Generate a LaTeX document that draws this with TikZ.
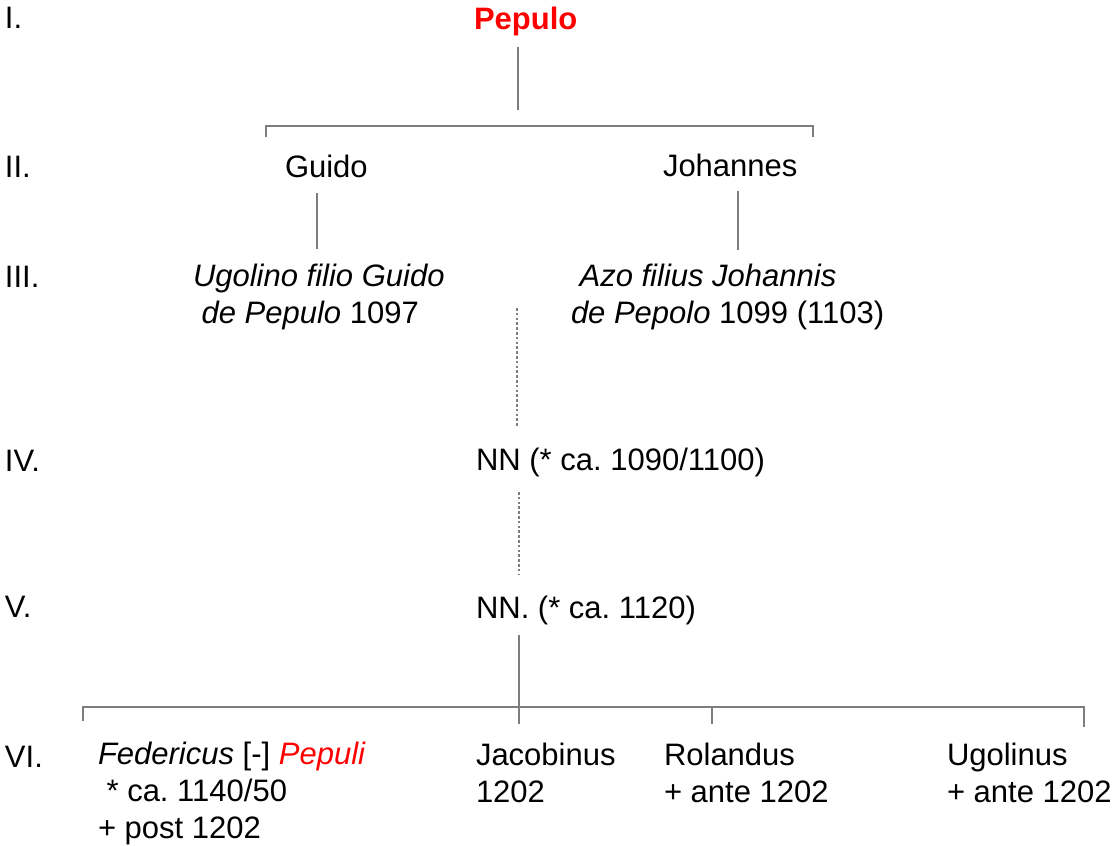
\documentclass[tikz,border=0pt]{standalone}
\usepackage{fontspec}
\setmainfont{Liberation Sans}
\frenchspacing
\definecolor{linegray}{RGB}{125,125,125}
\definecolor{namered}{RGB}{255,0,0}
\begin{document}
\frenchspacing
\begin{tikzpicture}[x=0.75pt,y=-0.75pt,
  lbl/.style={anchor=base west, inner sep=0pt, outer sep=0pt,
    font=\fontsize{23.25pt}{27.4pt}\selectfont\frenchspacing, align=left},
  conn/.style={draw=linegray, line width=1.1pt},
  dotconn/.style={draw=linegray, line width=1.2pt, dash pattern=on 2pt off 1.6pt}]
\useasboundingbox (0,0) rectangle (1115,846);
% generation numerals
\node[lbl] (r1) at (5,28) {I.};
\node[lbl] (r2) at (5,177) {II.};
\node[lbl] (r3) at (5,287) {III.};
\node[lbl] (r4) at (5,471) {IV.};
\node[lbl] (r5) at (5,617) {V.};
\node[lbl] (r6) at (5,767) {VI.};
% persons (multi-line nodes are anchored at the baseline of their last line)
\node[lbl, text=namered, font=\fontsize{23.25pt}{27.4pt}\selectfont\bfseries] (pepulo) at (474,29) {Pepulo};
\node[lbl] (guido) at (285,177) {Guido};
\node[lbl] (johannes) at (663,176) {Johannes};
\node[lbl] (ugolino) at (193,323) {\textit{Ugolino filio Guido}\\\hspace*{0.278em}\textit{de Pepulo} 1097};
\node[lbl] (azo) at (571,323) {\hspace*{0.278em}\textit{Azo filius Johannis}\\\textit{de Pepolo} 1099 (1103)};
\node[lbl] (nn1) at (476,470) {NN (* ca. 1090/1100)};
\node[lbl] (nn2) at (476,618) {NN. (* ca. 1120)};
\node[lbl] (federicus) at (98,838) {\textit{Federicus} [-] \textcolor{namered}{\textit{Pepuli}}\\\hspace*{0.278em}* ca. 1140/50\\+ post 1202};
\node[lbl] (jacobinus) at (476,802) {Jacobinus\\1202};
\node[lbl] (rolandus) at (664,802) {Rolandus\\+ ante 1202};
\node[lbl] (ugolinus) at (947,802) {Ugolinus\\+ ante 1202};
% connector points
\coordinate (pepB) at (518,47);
\coordinate (barT) at (518,110);
\coordinate (barTL) at (266,126);
\coordinate (barTR) at (813,126);
\coordinate (tickTL) at (266,137);
\coordinate (tickTR) at (813,137);
\coordinate (guiB) at (317,193);
\coordinate (ugoT) at (317,249);
\coordinate (johB) at (738,191);
\coordinate (azoT) at (738,250);
\coordinate (d1T) at (517,308);
\coordinate (d1B) at (517,427);
\coordinate (d2T) at (519,492);
\coordinate (d2B) at (519,575);
\coordinate (nnB) at (519,635);
\coordinate (jacT) at (519,724);
\coordinate (barBL) at (83,707);
\coordinate (fedT) at (83,721);
\coordinate (barBR) at (1084,707);
\coordinate (ugsT) at (1084,727);
\coordinate (rolB) at (712,707);
\coordinate (rolT) at (712,724);
% connectors
\draw[conn] (pepB) -- (barT);
\draw[conn] (tickTL) -- (barTL) -- (barTR) -- (tickTR);
\draw[conn] (guiB) -- (ugoT);
\draw[conn] (johB) -- (azoT);
\draw[dotconn] (d1T) -- (d1B);
\draw[dotconn] (d2T) -- (d2B);
\draw[conn] (nnB) -- (jacT);
\draw[conn] (fedT) -- (barBL) -- (barBR) -- (ugsT);
\draw[conn] (rolB) -- (rolT);
\end{tikzpicture}
\end{document}
